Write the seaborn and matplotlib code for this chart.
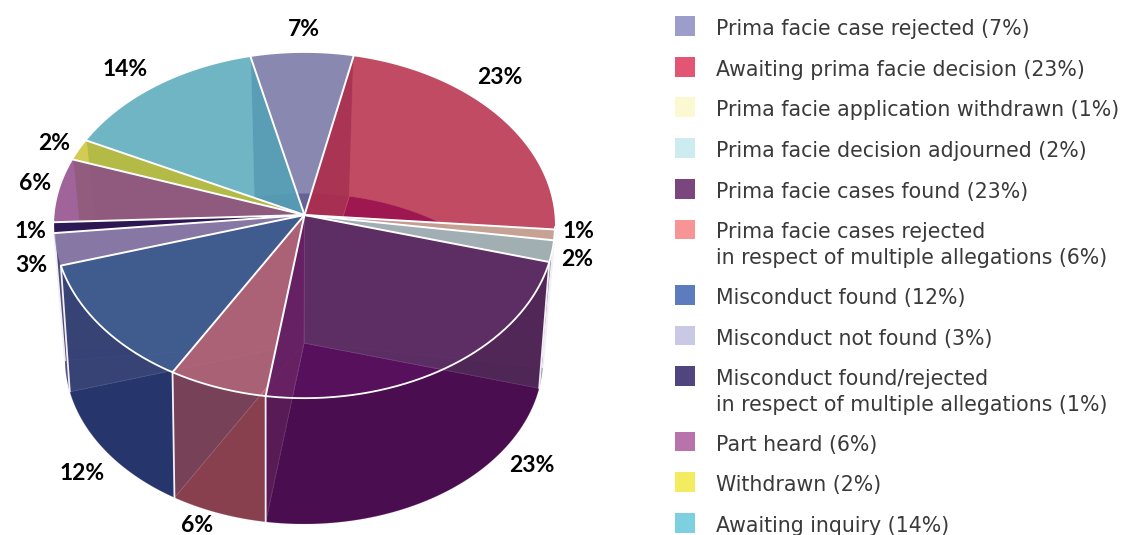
import numpy as np
import pandas as pd
import seaborn as sns
import matplotlib
matplotlib.use("Agg")
import matplotlib.pyplot as plt
from matplotlib.patches import Polygon

# Case outcomes, in clockwise order round the pie
categories = [
    "Prima facie case rejected",
    "Awaiting prima facie decision",
    "Prima facie application withdrawn",
    "Prima facie decision adjourned",
    "Prima facie cases found",
    "Prima facie cases rejected\nin respect of multiple allegations",
    "Misconduct found",
    "Misconduct not found",
    "Misconduct found/rejected\nin respect of multiple allegations",
    "Part heard",
    "Withdrawn",
    "Awaiting inquiry",
]
shares = [7, 23, 1, 2, 23, 6, 12, 3, 1, 6, 2, 14]

legend_colors = ["#9d9dcc", "#e25573", "#fbf8d2", "#ccecf0", "#7a467d", "#f79596",
                 "#5c7cbd", "#c9c9e5", "#50457f", "#b873ad", "#f3ec61", "#7dd0df"]
top_colors = ["#6a6a9c", "#b11e3c", "#cebea5", "#9bb6c2", "#5a1260", "#c96873",
              "#30538a", "#9688b0", "#0f0041", "#883d82", "#c7c02a", "#4ba3b5"]
base_colors = ["#504682", "#5a00a0", "#a08050", "#6f8f95", "#4a0d50", "#88404f",
               "#26366c", "#50507a", "#30206a", "#6a3a70", "#909040", "#3a8090"]
side_colors = ["#8782b0", "#a02040", "#c0a080", "#62a070", "#5a2a60", "#a06070",
               "#304a80", "#8a85a5", "#40307a", "#a06a9a", "#b4d769", "#5a9ab0"]

# Label placement around the drum
label_positions = [(304, 30), (500, 78), (579, 232), (577, 259), (532, 465), (197, 525),
                   (82, 473), (31, 265), (31, 232), (35, 183), (54, 143), (125, 70)]

START_ANGLE = -13.2
TOP = dict(cx=304.5, cy=215.0, a=250.0, b=172.0, p=0.061)
BOTTOM = dict(cx=304.0, cy=343.0, a=238.0, b=164.0, p=0.094)


def project(theta_deg, level):
    """Perspective view of a horizontal circle; angles run clockwise from the back."""
    t = np.radians(theta_deg)
    u, v = np.sin(t), np.cos(t)
    w = 1 + level["p"] * v
    return level["cx"] + level["a"] * u / w, level["cy"] - level["b"] * v / w


def arc(t0, t1, level):
    ts = np.linspace(t0, t1, max(int(abs(t1 - t0) * 2), 2))
    return np.column_stack(project(ts, level))


def hub(level):
    return np.array([[level["cx"], level["cy"]]])


sns.set_theme(style="white")
plt.rcParams["font.family"] = ["Lato", "DejaVu Sans"]

fig = plt.figure(figsize=(11.23, 5.35), dpi=100, facecolor="white")
ax = fig.add_axes([0, 0, 1, 1])
ax.set_xlim(0, 1123)
ax.set_ylim(535, 0)
ax.axis("off")

edges = START_ANGLE + np.concatenate([[0], np.cumsum(shares)]) * 3.6
n = len(shares)

# Floor of the drum
for i in range(n):
    poly = np.vstack([hub(BOTTOM), arc(edges[i], edges[i + 1], BOTTOM)])
    ax.add_patch(Polygon(poly, closed=True, fc=base_colors[i], ec="#ffffff", lw=0.4,
                         alpha=1.0, zorder=1))
ax.plot(*arc(0, 360, BOTTOM).T, color="#ffffff", alpha=0.35, lw=0.6, zorder=1.5)

# Interior radial walls: each shows the colour of the slice behind the cut
for i in range(n):
    angle = edges[i] % 360
    owner = (i - 1) % n if angle < 180 else i
    x0, y0 = project(edges[i], TOP)
    x1, y1 = project(edges[i], BOTTOM)
    poly = [(TOP["cx"], TOP["cy"]), (x0, y0), (x1, y1), (BOTTOM["cx"], BOTTOM["cy"])]
    ax.add_patch(Polygon(poly, closed=True, fc=side_colors[owner], ec="#ffffff", lw=0.5,
                         alpha=0.9, zorder=2 + (0.001 * y0)))

# Outer walls facing the viewer
WALL_FROM, WALL_TO = 94, 265
for i in range(n):
    t0, t1 = max(edges[i], WALL_FROM), min(edges[i + 1], WALL_TO)
    if t1 <= t0:
        continue
    poly = np.vstack([arc(t0, t1, TOP), arc(t0, t1, BOTTOM)[::-1]])
    ax.add_patch(Polygon(poly, closed=True, fc=base_colors[i], ec="none", alpha=0.82, zorder=3))
    if t0 == edges[i]:
        x0, y0 = project(t0, TOP)
        x1, y1 = project(t0, BOTTOM)
        ax.plot([x0, x1], [y0, y1], color="#f4eff6", lw=1.3, zorder=3.5)

# Top faces
for i in range(n):
    poly = np.vstack([hub(TOP), arc(edges[i], edges[i + 1], TOP)])
    ax.add_patch(Polygon(poly, closed=True, fc=top_colors[i], ec="none", alpha=0.8, zorder=4))
for i in range(n):
    x0, y0 = project(edges[i], TOP)
    ax.plot([TOP["cx"], x0], [TOP["cy"], y0], color="white", lw=1.4, zorder=5,
            solid_capstyle="round")
ax.plot(*arc(94, 253, TOP).T, color="white", lw=1.3, zorder=5)

# Percentage labels
for (x, y), share in zip(label_positions, shares):
    ax.text(x, y, f"{share}%", ha="center", va="center", fontsize=16.5,
            fontweight="bold", color="black", zorder=6, clip_on=False)

# Legend column: a two-line entry pushes the following rows down
line_counts = np.array([c.count("\n") + 1 for c in categories])
row_tops = 26 + np.concatenate([[0], np.cumsum(40.7 + 24.6 * (line_counts[:-1] - 1))])
legend_frame = pd.DataFrame({"x": 685.0, "y": row_tops, "category": categories})
sns.scatterplot(data=legend_frame, x="x", y="y", hue="category", palette=legend_colors,
                marker="s", s=207, linewidth=0, legend=False, ax=ax, zorder=6)
ax.set_xlim(0, 1123)
ax.set_ylim(535, 0)
ax.axis("off")

LEGEND_STYLE = dict(ha="left", va="center", fontsize=14.8, family="DejaVu Sans",
                    color="#3a3a3a", fontweight="normal", zorder=6)
for y, name, share in zip(row_tops, categories, shares):
    lines = name.split("\n")
    lines[-1] = f"{lines[-1]} ({share}%)"
    for k, line in enumerate(lines):
        ax.text(716, y + 3 + 25.5 * k, line, **LEGEND_STYLE)

fig.savefig("out.png", dpi=100, facecolor="white")
